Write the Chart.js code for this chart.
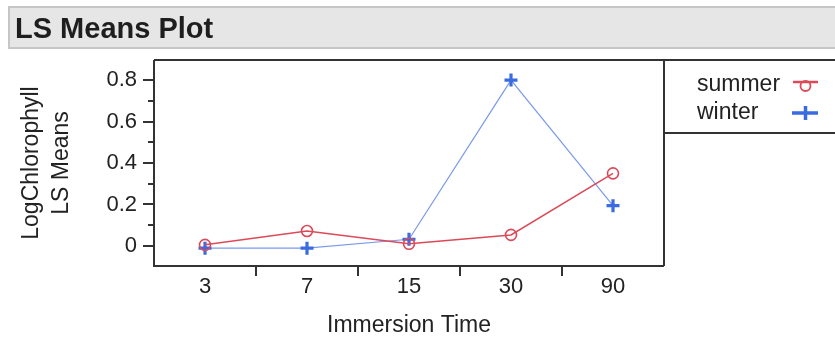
<!DOCTYPE html>
<html><head><meta charset="utf-8">
<script src="https://cdn.jsdelivr.net/npm/chart.js@4.4.1/dist/chart.umd.min.js"></script>
<style>html,body{margin:0;padding:0;background:#fff;overflow:hidden}canvas{display:block}</style>
</head><body><canvas id="c" width="835" height="339"></canvas>
<script>
const chartTitle = 'LS Means Plot';
const categories = ['3', '7', '15', '30', '90'];
const seriesNames = ['summer', 'winter'];
const summerValues = [0.005, 0.072, 0.010, 0.053, 0.350];
const winterValues = [-0.011, -0.011, 0.032, 0.800, 0.194];
const yTickValues = [0, 0.2, 0.4, 0.6, 0.8];
const yMinorTickValues = [0.1, 0.3, 0.5, 0.7];
const yTitleLines = ['LogChlorophyll', 'LS Means'];
const xTitle = 'Immersion Time';

const FONT = '"Liberation Sans", Arial, sans-serif';
const RED = '#dc4a58';
const BLUE = '#3a6be0';

const decor = {
  id: 'decor',
  beforeDraw(chart) {
    const ctx = chart.ctx;
    ctx.save();
    ctx.fillStyle = '#fff';
    ctx.fillRect(0, 0, chart.width, chart.height);
    ctx.fillStyle = '#e6e6e6';
    ctx.fillRect(9, 7, 840, 41);
    ctx.strokeStyle = '#c6c6c6';
    ctx.lineWidth = 2;
    ctx.strokeRect(9, 7, 840, 41);
    ctx.fillStyle = '#1e1e1e';
    ctx.font = 'bold 29px ' + FONT;
    ctx.textBaseline = 'alphabetic';
    ctx.fillText(chartTitle, 15, 38);
    ctx.restore();
  },
  afterDraw(chart) {
    const ctx = chart.ctx, ca = chart.chartArea;
    const xs = chart.scales.x, ys = chart.scales.y;
    ctx.save();
    ctx.strokeStyle = '#333';
    ctx.lineWidth = 2;
    ctx.beginPath();
    ctx.moveTo(ca.left, ca.top); ctx.lineTo(chart.width, ca.top);
    ctx.moveTo(ca.left, ca.top); ctx.lineTo(ca.left, ca.bottom); ctx.lineTo(ca.right, ca.bottom);
    ctx.moveTo(ca.right, ca.top); ctx.lineTo(ca.right, ca.bottom);
    ctx.moveTo(ca.right, 133); ctx.lineTo(chart.width, 133);
    yTickValues.forEach(v => { const p = Math.round(ys.getPixelForValue(v)); ctx.moveTo(ca.left - 11, p); ctx.lineTo(ca.left, p); });
    yMinorTickValues.forEach(v => { const p = Math.round(ys.getPixelForValue(v)); ctx.moveTo(ca.left - 6, p); ctx.lineTo(ca.left, p); });
    for (let i = 0; i < categories.length - 1; i++) {
      const p = Math.round((xs.getPixelForValue(i) + xs.getPixelForValue(i + 1)) / 2);
      ctx.moveTo(p, ca.bottom); ctx.lineTo(p, ca.bottom + 10);
    }
    ctx.stroke();
    ctx.font = '23px ' + FONT;
    ctx.fillStyle = '#222';
    ctx.textBaseline = 'middle';
    const rows = [85, 113];
    chart.data.datasets.forEach((ds, i) => {
      const y = rows[i];
      ctx.fillText(ds.label, 697, y);
      ctx.strokeStyle = ds.pointBorderColor;
      ctx.lineWidth = 2.5;
      ctx.beginPath();
      if (i === 0) {
        ctx.moveTo(793, y - 3); ctx.lineTo(818, y - 3); ctx.stroke();
        ctx.lineWidth = 1.8;
        ctx.beginPath(); ctx.arc(805.5, y + 1, 5, 0, Math.PI * 2); ctx.stroke();
      } else {
        ctx.moveTo(792, y); ctx.lineTo(818, y);
        ctx.moveTo(805.5, y - 7); ctx.lineTo(805.5, y + 7);
        ctx.lineWidth = 3.5;
        ctx.stroke();
      }
    });
    ctx.restore();
  }
};

new Chart(document.getElementById('c'), {
  type: 'line',
  data: {
    labels: categories,
    datasets: [
      { label: seriesNames[0], data: summerValues, borderColor: RED, borderWidth: 1.5,
        pointStyle: 'circle', pointRadius: 5.5, pointBorderWidth: 1.6, pointBorderColor: RED,
        pointBackgroundColor: 'rgba(0,0,0,0)', tension: 0 },
      { label: seriesNames[1], data: winterValues, borderColor: '#7b9ae9', borderWidth: 1.2,
        pointStyle: 'cross', pointRadius: 6.5, pointBorderWidth: 3.2, pointBorderColor: BLUE,
        pointBackgroundColor: BLUE, tension: 0 }
    ]
  },
  options: {
    responsive: false,
    animation: false,
    devicePixelRatio: 1,
    layout: { padding: { top: 60, right: 171, left: 0, bottom: 0 } },
    plugins: { legend: { display: false }, tooltip: { enabled: false }, title: { display: false } },
    scales: {
      x: {
        type: 'category',
        offset: true,
        grid: { display: false, drawTicks: false },
        border: { display: false },
        ticks: { color: '#222', font: { family: FONT, size: 22 }, padding: 8, maxRotation: 0 },
        title: { display: true, text: xTitle, color: '#222', font: { family: FONT, size: 23 }, padding: { top: 0, bottom: 0 } },
        afterFit(s) { s.height = 73; }
      },
      y: {
        type: 'linear',
        min: -0.097,
        max: 0.897,
        grid: { display: false, drawTicks: false },
        border: { display: false },
        afterBuildTicks(s) { s.ticks = yTickValues.map(v => ({ value: v })); },
        ticks: { color: '#222', font: { family: FONT, size: 22 }, padding: 17,
          callback: v => (v === 0 ? '0' : String(Math.round(v * 10) / 10)) },
        title: { display: true, text: yTitleLines, color: '#222', font: { family: FONT, size: 23, lineHeight: 1.3 }, padding: { top: 17, bottom: 0 } },
        afterFit(s) { s.width = 154; }
      }
    }
  },
  plugins: [decor]
});
</script>
</body></html>
